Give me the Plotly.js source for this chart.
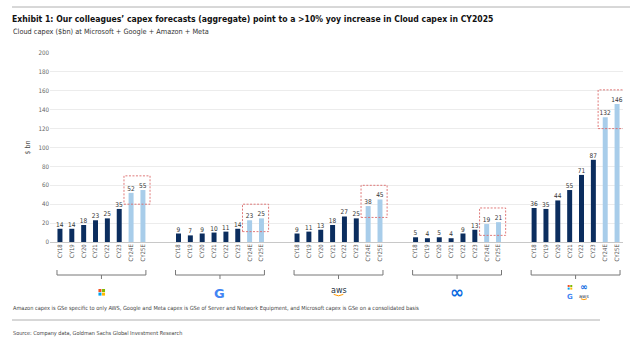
<!DOCTYPE html>
<html>
<head>
<meta charset="utf-8">
<script src="https://cdn.plot.ly/plotly-3.0.1.min.js"></script>
<style>html,body{margin:0;padding:0;background:#fff;}#chart{width:640px;height:354px;}</style>
</head>
<body>
<div id="chart"></div>
<script>
// ---- data ----
const groups = ["Microsoft", "Google", "Amazon", "Meta", "Total"];
const years = ["CY18", "CY19", "CY20", "CY21", "CY22", "CY23", "CY24E", "CY25E"];
const microsoft = [14, 14, 18, 23, 25, 35, 52, 55];
const google = [9, 7, 9, 10, 11, 14, 23, 25];
const amazon = [9, 11, 13, 18, 27, 25, 38, 45];
const meta = [5, 4, 5, 4, 9, 13, 19, 21];
const total = [36, 35, 44, 55, 71, 87, 132, 146];
const series = [microsoft, google, amazon, meta, total];
const yTicks = [0, 20, 40, 60, 80, 100, 120, 140, 160, 180, 200];

const title = "Exhibit 1: Our colleagues\u2019 capex forecasts (aggregate) point to a >10% yoy increase in Cloud capex in CY2025";
const subtitle = "Cloud capex ($bn) at Microsoft + Google + Amazon + Meta";
const footnote = "Amazon capex is GSe specific to only AWS, Google and Meta capex is GSe of Server and Network Equipment, and Microsoft capex is GSe on a consolidated basis";
const source = "Source: Company data, Goldman Sachs Global Investment Research";

// ---- build ----
const FONT = "DejaVu Sans Condensed, Liberation Sans Narrow, sans-serif";
const SLOT = 10; // 8 bars + 2 gap slots per group
const actX = [], actY = [], estX = [], estY = [], tickvals = [], ticktext = [];
series.forEach((vals, g) => {
  vals.forEach((v, i) => {
    const x = g * SLOT + i;
    tickvals.push(x); ticktext.push(years[i]);
    if (years[i].endsWith("E")) { estX.push(x); estY.push(v); }
    else { actX.push(x); actY.push(v); }
  });
});

const barCommon = {
  type: "bar", width: 0.42, textposition: "outside", cliponaxis: false, constraintext: "none",
  textfont: {family: FONT, size: 6.5, color: "#333"}, hoverinfo: "skip"
};
const traces = [
  Object.assign({}, barCommon, {x: actX, y: actY, text: actY.map(String), marker: {color: "#0b2d5e"}}),
  Object.assign({}, barCommon, {x: estX, y: estY, text: estY.map(String), marker: {color: "#a8cdea"}})
];

const shapes = [];
const annotations = [];
const pyToPaper = py => (242 - py) / 189;
const pxToPaper = px => (px - 50) / 573;

series.forEach((vals, g) => {
  const est = vals.filter((v, i) => years[i].endsWith("E"));
  const x0 = g * SLOT;
  shapes.push({type: "rect", xref: "x", yref: "y", x0: x0 + 5.4, x1: x0 + 7.6,
    y0: Math.min(...est) - 12, y1: Math.max(...est) + 15,
    line: {color: "#dd6b6b", width: 0.9, dash: "2px,1.5px"}});
  const yb = pyToPaper(275), ye = pyToPaper(270), yt = pyToPaper(279);
  const xa = x0 - 0.25, xb = x0 + 7.25, xc = x0 + 3.5;
  shapes.push({type: "path", xref: "x", yref: "paper",
    path: `M${xa},${ye} L${xa},${yb} L${xb},${yb} L${xb},${ye} M${xc},${yb} L${xc},${yt}`,
    line: {color: "#777", width: 1}});
});

function msLogo(xc, py, s) {
  const cols = [["#f25022", "#7fba00"], ["#00a4ef", "#ffb900"]];
  for (let r = 0; r < 2; r++) for (let c = 0; c < 2; c++) {
    shapes.push({type: "rect", xref: "x", yref: "paper", xsizemode: "pixel", ysizemode: "pixel",
      xanchor: xc, yanchor: pyToPaper(py),
      x0: -s + c * (s + 0.6), x1: -s + c * (s + 0.6) + s,
      y0: s - r * (s + 0.6), y1: s - r * (s + 0.6) - s,
      fillcolor: cols[r][c], line: {width: 0}});
  }
}
function awsLogo(xc, py, size) {
  annotations.push({xref: "x", yref: "paper", x: xc, y: pyToPaper(py), text: "aws", showarrow: false,
    font: {family: "DejaVu Sans", size: size, color: "#232f3e"}, xanchor: "center", yanchor: "middle"});
  const w = size * 0.6;
  shapes.push({type: "path", xref: "x", yref: "paper", xsizemode: "pixel", ysizemode: "pixel",
    xanchor: xc, yanchor: pyToPaper(py + size * 0.55),
    path: `M${-w},0 Q0,${-size * 0.35} ${w},0`, line: {color: "#ff9900", width: 1}});
}
function gLogo(xc, py, size) {
  annotations.push({xref: "x", yref: "paper", x: xc, y: pyToPaper(py), text: "<b>G</b>", showarrow: false,
    font: {family: "DejaVu Sans", size: size, color: "#4285f4"}, xanchor: "center", yanchor: "middle"});
}
function metaLogo(xc, py, size) {
  annotations.push({xref: "x", yref: "paper", x: xc, y: pyToPaper(py), text: "<b>\u221e</b>", showarrow: false,
    font: {family: "DejaVu Sans", size: size, color: "#0668e1"}, xanchor: "center", yanchor: "middle"});
}
msLogo(0 * SLOT + 3.5, 292, 3);
gLogo(1 * SLOT + 3.5, 293, 13);
awsLogo(2 * SLOT + 3.5, 290, 8);
metaLogo(3 * SLOT + 3.5, 292, 17);
msLogo(4 * SLOT + 3.0, 287, 2);
metaLogo(4 * SLOT + 4.2, 287, 9);
gLogo(4 * SLOT + 3.0, 297, 7);
awsLogo(4 * SLOT + 4.2, 296, 5);

shapes.push({type: "line", xref: "paper", yref: "paper", x0: pxToPaper(12), x1: pxToPaper(630),
  y0: pyToPaper(7), y1: pyToPaper(7), line: {color: "#b0b0b0", width: 1}});
shapes.push({type: "line", xref: "paper", yref: "paper", x0: pxToPaper(12), x1: pxToPaper(600),
  y0: pyToPaper(320), y1: pyToPaper(320), line: {color: "#b0b0b0", width: 1}});

annotations.push({xref: "paper", yref: "paper", x: pxToPaper(11), y: pyToPaper(32), text: subtitle,
  showarrow: false, xanchor: "left", yanchor: "middle", font: {family: FONT, size: 7.3, color: "#333"}});
annotations.push({xref: "paper", yref: "paper", x: pxToPaper(11), y: pyToPaper(308), text: footnote,
  showarrow: false, xanchor: "left", yanchor: "middle", font: {family: FONT, size: 5.6, color: "#444"}});
annotations.push({xref: "paper", yref: "paper", x: pxToPaper(11), y: pyToPaper(333), text: source,
  showarrow: false, xanchor: "left", yanchor: "middle", font: {family: FONT, size: 5.5, color: "#444"}});

const layout = {
  width: 640, height: 354,
  margin: {l: 50, r: 17, t: 53, b: 112},
  paper_bgcolor: "#fff", plot_bgcolor: "#fff",
  showlegend: false, barmode: "overlay",
  title: {text: "<b>" + title + "</b>", x: 12 / 640, xanchor: "left", xref: "container",
    y: 1 - 19 / 354, yanchor: "middle", yref: "container",
    font: {family: FONT, size: 8.6, color: "#111"}},
  xaxis: {range: [-0.84, 47.5], tickvals: tickvals, ticktext: ticktext, tickangle: -90,
    tickfont: {family: FONT, size: 6, color: "#555"}, showgrid: false, zeroline: false,
    showline: false, ticks: "", fixedrange: true},
  yaxis: {range: [0, 200], tickvals: yTicks, tickfont: {family: FONT, size: 6.2, color: "#666"},
    showgrid: true, gridcolor: "#ececec", gridwidth: 1, zeroline: true, zerolinecolor: "#c8c8c8",
    showline: false, ticks: "", fixedrange: true,
    title: {text: "$ bn", standoff: 6, font: {family: FONT, size: 7, color: "#555"}}},
  shapes: shapes, annotations: annotations
};

Plotly.newPlot("chart", traces, layout, {staticPlot: true, displayModeBar: false});
</script>
</body>
</html>
